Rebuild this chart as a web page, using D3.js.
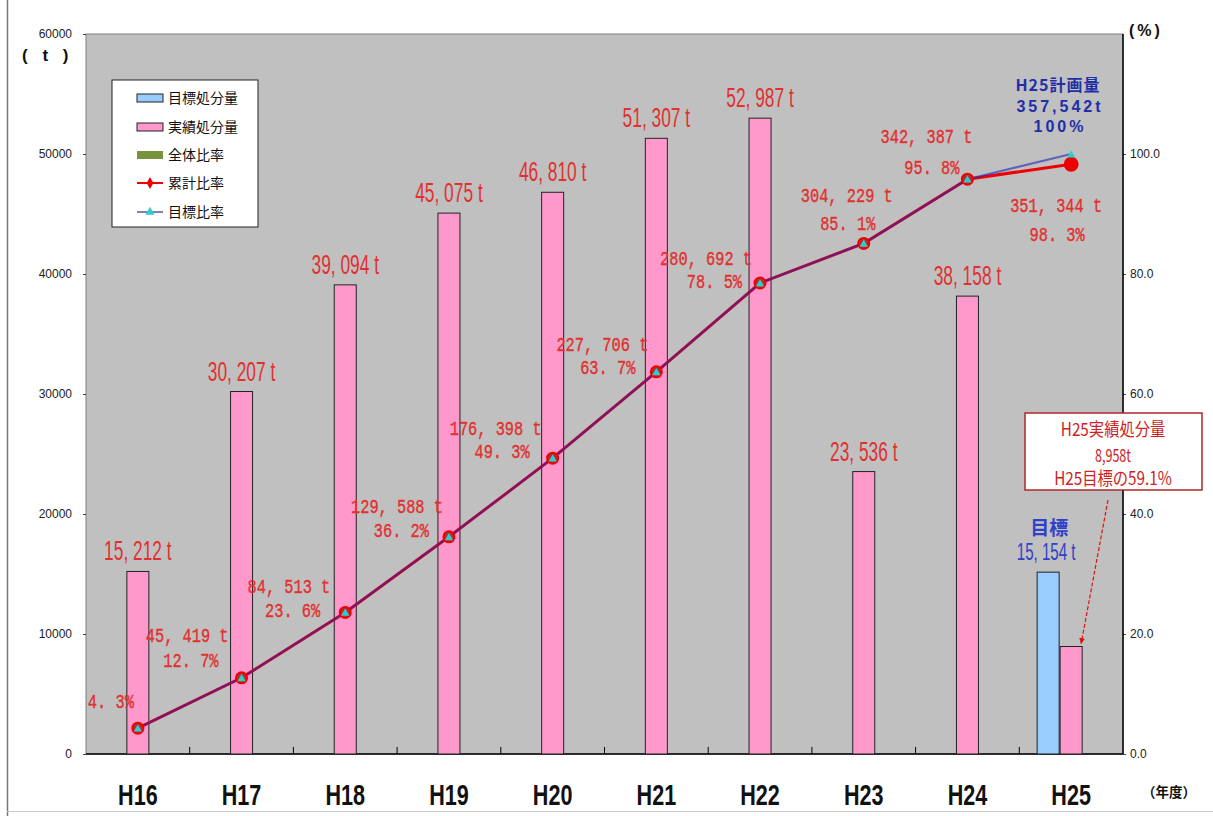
<!DOCTYPE html>
<html>
<head>
<meta charset="utf-8">
<script src="https://cdn.jsdelivr.net/npm/d3@7"></script>
<style>
  body { margin: 0; background: #fff; }
  svg { display: block; }
</style>
</head>
<body>
<svg width="1213" height="816"></svg>
<script>
// data
var categories = ["H16", "H17", "H18", "H19", "H20", "H21", "H22", "H23", "H24", "H25"];
var actualTons = [15212, 30207, 39094, 45075, 46810, 51307, 52987, 23536, 38158, 8958];
var targetTons = [null, null, null, null, null, null, null, null, null, 15154];
var cumulativeTons = [15212, 45419, 84513, 129588, 176398, 227706, 280692, 304229, 342387, 351344];
var cumulativeRate = [4.3, 12.7, 23.6, 36.2, 49.3, 63.7, 78.5, 85.1, 95.8, 98.3];
var targetRate = [4.3, 12.7, 23.6, 36.2, 49.3, 63.7, 78.5, 85.1, 95.8, 100];
var leftTicks = [0, 10000, 20000, 30000, 40000, 50000, 60000];
var rightTicks = [0, 20, 40, 60, 80, 100];
var legendLabels = ["目標処分量", "実績処分量", "全体比率", "累計比率", "目標比率"];
var planLines = ["H25計画量", "357,542t", "100%"];
var noteLines = ["H25実績処分量", "8,958t", "H25目標の59.1%"];

// where the cumulative labels sit relative to their point: [dx1, dy1, dx2, dy2, anchor]
var cumLabelLayout = [
  [0, 0, -4, -20, "end"],
  [-13, -36, -23, -11, "end"],
  [-15, -19, -25, 5, "end"],
  [-6, -24, -20, 0, "end"],
  [-11, -23, -23, 0, "end"],
  [-8, -21, -21, 2, "end"],
  [-8, -18, -18, 5, "end"],
  [-17, -41, -16, -13, "middle"],
  [5, -36, -8, -5, "end"],
  [-15, 48, -14, 77, "middle"]
];

var svg = d3.select("svg");
var plotL = 86, plotR = 1123, plotT = 34, plotB = 754;

var x = d3.scaleBand().domain(categories).range([plotL, plotR]);
var y = d3.scaleLinear().domain([0, 60000]).range([plotB, plotT]);
var yR = d3.scaleLinear().domain([0, 120]).range([plotB, plotT]);
var cx = function(c) { return x(c) + x.bandwidth() / 2; };

var red = "#e03030";
var fmtT = function(v) { return d3.format(",")(v).replace(",", ", ") + " t"; };
var fmtP = function(v) { return d3.format(".1f")(v).replace(".", ". ") + "%"; };

var squeezed = function(g, px, py, sx, txt, anchor) {
  return g.append("text")
    .attr("transform", "translate(" + px + "," + py + ") scale(" + sx + ",1)")
    .attr("text-anchor", anchor || "middle")
    .text(txt);
};

// outer frame
svg.append("line").attr("x1", 7.5).attr("x2", 7.5).attr("y1", 0).attr("y2", 816)
  .attr("stroke", "#777").attr("stroke-width", 1.5);
svg.append("line").attr("x1", 7).attr("x2", 1213).attr("y1", 811.5).attr("y2", 811.5)
  .attr("stroke", "#ccc");

// plot area
svg.append("rect")
  .attr("x", plotL).attr("y", plotT)
  .attr("width", plotR - plotL).attr("height", plotB - plotT)
  .attr("fill", "#c0c0c0").attr("stroke", "#808080");

// axes
var axL = svg.append("g").attr("transform", "translate(" + plotL + ",0)")
  .call(d3.axisLeft(y).tickValues(leftTicks).tickSize(3).tickPadding(11).tickFormat(d3.format("d")));
var axR = svg.append("g").attr("transform", "translate(" + plotR + ",0)")
  .call(d3.axisRight(yR).tickValues(rightTicks).tickSize(3).tickPadding(4).tickFormat(d3.format(".1f")));
[axL, axR].forEach(function(a) {
  a.select(".domain").remove();
  a.selectAll("text").attr("font-family", "'Liberation Sans', Arial, sans-serif")
    .attr("font-size", 12).attr("fill", "#222");
  a.selectAll("line").attr("stroke", "#444");
});

svg.append("line").attr("x1", plotR).attr("x2", plotR).attr("y1", plotT).attr("y2", plotB)
  .attr("stroke", "#000").attr("stroke-width", 1.5);
svg.append("line").attr("x1", plotL).attr("x2", plotR).attr("y1", plotB).attr("y2", plotB)
  .attr("stroke", "#000").attr("stroke-width", 1.5);

// category separators
svg.selectAll(".sep")
  .data(categories.slice(1))
  .enter()
  .append("line")
  .attr("x1", function(d) { return x(d); })
  .attr("x2", function(d) { return x(d); })
  .attr("y1", plotB).attr("y2", plotB - 7)
  .attr("stroke", "#000");

// category labels
var catG = svg.append("g").attr("font-family", "'Liberation Sans', Arial, sans-serif")
  .attr("font-weight", "bold").attr("font-size", 30).attr("fill", "#111");
categories.forEach(function(c) { squeezed(catG, cx(c), 805, 0.72, c); });
svg.append("text").attr("x", 1142).attr("y", 797)
  .attr("font-family", "'Noto Sans CJK JP', sans-serif").attr("font-weight", "bold")
  .attr("font-size", 13.5).attr("fill", "#111").text("（年度）");

// unit labels
svg.append("text").attr("x", 22).attr("y", 61)
  .attr("font-family", "'Liberation Sans', Arial, sans-serif").attr("font-weight", "bold")
  .attr("font-size", 17).attr("letter-spacing", 5).attr("fill", "#111").text("( t )");
svg.append("text").attr("x", 1129).attr("y", 36)
  .attr("font-family", "'Liberation Sans', Arial, sans-serif").attr("font-weight", "bold")
  .attr("font-size", 16).attr("letter-spacing", 3).attr("fill", "#111").text("(%)");

// bars
var barW = 22;
svg.selectAll(".actual")
  .data(actualTons)
  .enter()
  .append("rect")
  .attr("x", function(d, i) { return cx(categories[i]) - barW / 2; })
  .attr("y", function(d) { return y(d); })
  .attr("width", barW)
  .attr("height", function(d) { return plotB - y(d); })
  .attr("fill", "#ff99cc")
  .attr("stroke", "#222");

svg.selectAll(".target")
  .data(targetTons.map(function(v, i) { return {c: categories[i], v: v}; }).filter(function(d) { return d.v != null; }))
  .enter()
  .append("rect")
  .attr("x", function(d) { return cx(d.c) - barW / 2 - barW - 1; })
  .attr("y", function(d) { return y(d.v); })
  .attr("width", barW)
  .attr("height", function(d) { return plotB - y(d.v); })
  .attr("fill", "#99ccff")
  .attr("stroke", "#222");

// bar value labels
var barLab = svg.append("g").attr("font-family", "'Liberation Sans', Arial, sans-serif")
  .attr("font-size", 28).attr("fill", red);
actualTons.forEach(function(v, i) {
  if (i === categories.length - 1) return;
  squeezed(barLab, cx(categories[i]), y(v) - 11, 0.62, fmtT(v));
});
targetTons.forEach(function(v, i) {
  if (v == null) return;
  var bx = cx(categories[i]) - barW - 1;
  var g = svg.append("g").attr("fill", "#3040c8");
  g.append("text").attr("x", bx + 1).attr("y", y(v) - 37).attr("text-anchor", "middle")
    .attr("font-family", "'Noto Sans CJK JP', sans-serif").attr("font-weight", "bold")
    .attr("font-size", 19).text("目標");
  g.attr("font-family", "'Liberation Sans', Arial, sans-serif").attr("font-size", 24);
  squeezed(g, bx - 2, y(v) - 12, 0.63, fmtT(v));
});

// rate lines
var line = d3.line()
  .x(function(d, i) { return cx(categories[i]); })
  .y(function(d) { return yR(d); });

svg.append("path").datum(cumulativeRate)
  .attr("d", line).attr("fill", "none")
  .attr("stroke", "#ee0000").attr("stroke-width", 3);
svg.append("path").datum(targetRate)
  .attr("d", line).attr("fill", "none")
  .attr("stroke", "#2828b8").attr("stroke-width", 2.2).attr("stroke-opacity", 0.62);

// markers
svg.selectAll(".cumPt")
  .data(cumulativeRate)
  .enter()
  .append("circle")
  .attr("cx", function(d, i) { return cx(categories[i]); })
  .attr("cy", function(d) { return yR(d); })
  .attr("r", function(d, i) { return i === categories.length - 1 ? 6.5 : 5.5; })
  .attr("fill", function(d, i) { return i === categories.length - 1 ? "#ee0000" : "#b03030"; })
  .attr("stroke", "#ee0000").attr("stroke-width", 2);

var tri = d3.symbol().type(d3.symbolTriangle).size(30);
svg.selectAll(".tgtPt")
  .data(targetRate)
  .enter()
  .append("path")
  .attr("d", tri)
  .attr("transform", function(d, i) { return "translate(" + cx(categories[i]) + "," + (yR(d) + 1) + ")"; })
  .attr("fill", "#33cccc");

// cumulative labels
var cumLab = svg.append("g").attr("font-family", "'Liberation Mono', 'DejaVu Sans Mono', monospace")
  .attr("font-size", 21).attr("fill", red).attr("stroke", red).attr("stroke-width", 0.4);
cumulativeRate.forEach(function(p, i) {
  var px = cx(categories[i]), py = yR(p), L = cumLabelLayout[i];
  if (i > 0) squeezed(cumLab, px + L[0], py + L[1], 0.73, fmtT(cumulativeTons[i]), L[4]);
  squeezed(cumLab, px + L[2], py + L[3], 0.73, fmtP(p), L[4]);
});

// H25 plan text
var planG = svg.append("g").attr("text-anchor", "middle").attr("fill", "#1f2fa8")
  .attr("font-weight", "bold");
planG.append("text").attr("x", 1058).attr("y", 91).attr("font-size", 16)
  .attr("font-family", "'Noto Sans CJK JP', sans-serif")
  .attr("letter-spacing", 1).text(planLines[0]);
planG.append("text").attr("x", 1060).attr("y", 112).attr("font-size", 16)
  .attr("font-family", "'Liberation Sans', Arial, sans-serif")
  .attr("letter-spacing", 3).text(planLines[1]);
planG.append("text").attr("x", 1060).attr("y", 132).attr("font-size", 16)
  .attr("font-family", "'Liberation Sans', Arial, sans-serif")
  .attr("letter-spacing", 3).text(planLines[2]);

// note box with arrow
svg.append("defs").append("marker")
  .attr("id", "arrow").attr("viewBox", "0 0 10 10")
  .attr("refX", 9).attr("refY", 5)
  .attr("markerWidth", 5).attr("markerHeight", 5)
  .attr("orient", "auto")
  .append("path").attr("d", "M0,0 L10,5 L0,10 z").attr("fill", "#dd1111");

svg.append("line")
  .attr("x1", 1108).attr("y1", 500)
  .attr("x2", cx("H25") + 10).attr("y2", y(actualTons[9]) - 3)
  .attr("stroke", "#dd1111").attr("stroke-width", 1.2)
  .attr("stroke-dasharray", "4,2")
  .attr("marker-end", "url(#arrow)");

svg.append("rect")
  .attr("x", 1025).attr("y", 413).attr("width", 177).attr("height", 77)
  .attr("fill", "#fff").attr("stroke", "#b02828").attr("stroke-width", 1.5);
var noteG = svg.append("g").attr("font-family", "'Noto Sans CJK JP', sans-serif")
  .attr("font-size", 18).attr("fill", "#cc2222");
squeezed(noteG, 1113, 436, 0.85, noteLines[0]);
squeezed(noteG, 1113, 462, 0.7, noteLines[1]);
squeezed(noteG, 1113, 485, 0.85, noteLines[2]);

// legend
var lg = svg.append("g");
lg.append("rect").attr("x", 112).attr("y", 80).attr("width", 146).attr("height", 147)
  .attr("fill", "#fff").attr("stroke", "#222");
var legY = [98, 127, 155, 183, 212];
legendLabels.forEach(function(t, i) {
  var yy = legY[i];
  if (i < 3) {
    lg.append("rect").attr("x", 137).attr("y", yy - 4).attr("width", 26).attr("height", 8)
      .attr("fill", ["#99ccff", "#ff99cc", "#77933c"][i])
      .attr("stroke", i < 2 ? "#222" : "none");
  } else if (i === 3) {
    lg.append("line").attr("x1", 137).attr("x2", 163).attr("y1", yy).attr("y2", yy)
      .attr("stroke", "#ee0000").attr("stroke-width", 2);
    lg.append("path").attr("d", d3.symbol().type(d3.symbolDiamond).size(40))
      .attr("transform", "translate(150," + yy + ")").attr("fill", "#ee0000");
  } else {
    lg.append("line").attr("x1", 137).attr("x2", 163).attr("y1", yy).attr("y2", yy)
      .attr("stroke", "#000080").attr("stroke-width", 1);
    lg.append("path").attr("d", d3.symbol().type(d3.symbolTriangle).size(36))
      .attr("transform", "translate(150," + yy + ")").attr("fill", "#33cccc");
  }
  lg.append("text").attr("x", 168).attr("y", yy + 5)
    .attr("font-family", "'Noto Sans CJK JP', sans-serif").attr("font-size", 14)
    .attr("fill", "#111").text(t);
});
</script>
</body>
</html>
